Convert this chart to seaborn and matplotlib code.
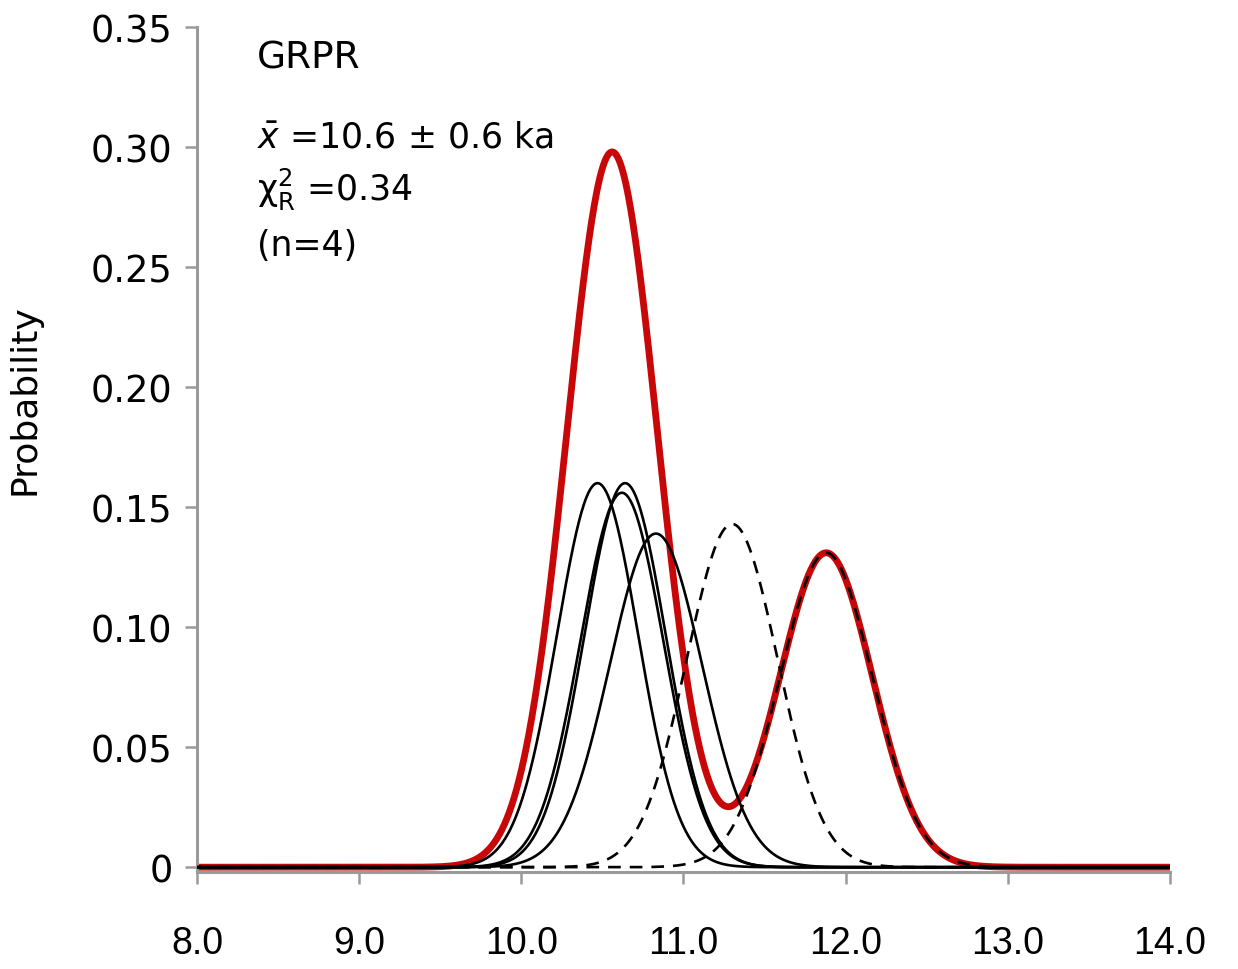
import numpy as np
import pandas as pd
import matplotlib
matplotlib.use("Agg")
import matplotlib.pyplot as plt
import seaborn as sns

# ---- data (Gaussian age probability curves) ----
black_means = [10.47, 10.62, 10.64, 10.83]
black_sigmas = [0.25, 0.255, 0.25, 0.285]
black_peaks = [0.160, 0.156, 0.160, 0.139]

dashed_means = [11.30, 11.88]
dashed_sigmas = [0.28, 0.285]
dashed_peaks = [0.143, 0.131]

red_means = [10.56, 11.88]
red_sigmas = [0.28, 0.285]
red_peaks = [0.298, 0.131]

x_ticks = [8.0, 9.0, 10.0, 11.0, 12.0, 13.0, 14.0]
x_ticklabels = ["8.0", "9.0", "10.0", "11.0", "12.0", "13.0", "14.0"]
y_ticks = [0, 0.05, 0.10, 0.15, 0.20, 0.25, 0.30, 0.35]
y_ticklabels = ["0", "0.05", "0.10", "0.15", "0.20", "0.25", "0.30", "0.35"]

site = "GRPR"
stat_mean = r"$\bar{x}$ =10.6 ± 0.6 ka"
stat_chi = r"χ$^{2}_{\rm R}$ =0.34"
stat_n = "(n=4)"

ages = np.linspace(8.0, 14.0, 1201)


def gauss(x, m, s, h):
    return h * np.exp(-0.5 * ((x - m) / s) ** 2)


rows = []
for i, (m, s, h) in enumerate(zip(black_means, black_sigmas, black_peaks)):
    rows.append(pd.DataFrame({"age": ages, "prob": gauss(ages, m, s, h),
                              "curve": f"b{i}", "kind": "solid"}))
for i, (m, s, h) in enumerate(zip(dashed_means, dashed_sigmas, dashed_peaks)):
    rows.append(pd.DataFrame({"age": ages, "prob": gauss(ages, m, s, h),
                              "curve": f"d{i}", "kind": "dashed"}))
red = np.zeros_like(ages)
for m, s, h in zip(red_means, red_sigmas, red_peaks):
    red = red + gauss(ages, m, s, h)
red_df = pd.DataFrame({"age": ages, "prob": red})
df = pd.concat(rows, ignore_index=True)

sns.set_theme(style="white")
plt.rcParams["font.family"] = ["DejaVu Sans"]
plt.rcParams["text.color"] = "black"
plt.rcParams["axes.labelcolor"] = "black"

fig = plt.figure(figsize=(12.38, 9.70), dpi=100)
ax = fig.add_axes([0.1591, 0.100, 0.786, 0.871])

sns.lineplot(data=red_df, x="age", y="prob", color="#c80808", lw=4.9,
             ax=ax, zorder=2)
for name, g in df.groupby("curve", sort=False):
    ls = "-" if g["kind"].iloc[0] == "solid" else (0, (4.8, 3.4))
    sns.lineplot(data=g, x="age", y="prob", color="black", lw=1.9,
                 linestyle=ls, ax=ax, zorder=3)

ax.set_xlim(8.0, 14.0)
ax.set_ylim(-0.002, 0.35)
ax.set_xticks(x_ticks)
ax.set_xticklabels(x_ticklabels, family=["Liberation Sans Narrow", "Liberation Sans", "DejaVu Sans"], fontsize=27)
ax.set_yticks(y_ticks)
ax.set_yticklabels(y_ticklabels, fontsize=26.5)
ax.set_xlabel("")
ax.set_ylabel("Probability", fontsize=26, color="black")
ax.yaxis.set_label_coords(-0.160, 0.56)

for side in ["top", "right"]:
    ax.spines[side].set_visible(False)
for side in ["left", "bottom"]:
    ax.spines[side].set_color("#9a9a9a")
    ax.spines[side].set_linewidth(2.2)
ax.tick_params(axis="both", which="both", direction="out", length=8.5,
               width=1.8, color="#9a9a9a", labelcolor="black",
               bottom=True, left=True, top=False, right=False)
ax.tick_params(axis="x", pad=30)
ax.tick_params(axis="y", pad=9)

ax.text(8.37, 0.333, site, fontsize=27, ha="left", va="baseline", color="black")
ax.text(8.37, 0.300, stat_mean, fontsize=25, ha="left", va="baseline", color="black")
ax.text(8.37, 0.278, stat_chi, fontsize=25, ha="left", va="baseline", color="black")
ax.text(8.37, 0.255, stat_n, fontsize=25, ha="left", va="baseline", color="black")

fig.savefig("out.png", dpi=100, facecolor="white")
